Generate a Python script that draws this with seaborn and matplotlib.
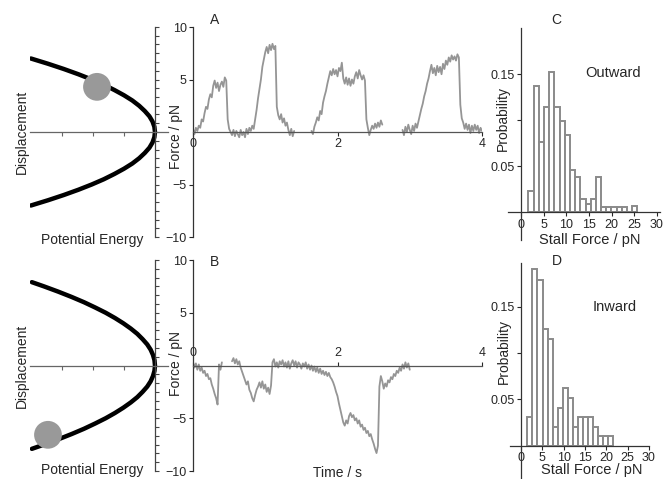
import numpy as np
import matplotlib
matplotlib.use('Agg')
import matplotlib.pyplot as plt
import seaborn as sns

# ---- data ----
# potential wells (schematic): displacement vs potential energy
disp_top = [0, 0.5, 1, 1.5, 2, 2.5, 3, 3.5, 4, 4.5, 5, 5.5, 6, 6.5, 7]
energy_top = [0, -0.02, -0.08, -0.18, -0.33, -0.51, -0.73, -1.0, -1.31, -1.65, -2.04, -2.47, -2.94, -3.45, -4.0]
disp_bot = [0, 0.5, 1, 1.5, 2, 2.5, 3, 3.5, 4, 4.5, 5, 5.5, 6, 6.5, 7, 7.5, 7.9]
energy_bot = [0, -0.016, -0.064, -0.14, -0.25, -0.40, -0.57, -0.78, -1.02, -1.29, -1.59, -1.93, -2.29, -2.69, -3.12, -3.58, -3.97]
ball_top = (-1.87, 4.3)
ball_bot = (-3.45, -6.57)

# force traces, sampled every 0.02 s, each segment with its start time
dt = 0.02
trace_a = [
    (0.00, [0.3, -0.2, 0.4, 0.1, 0.6, 0.4, 1.2, 1.0, 1.8, 2.4, 2.2, 3.1, 3.6, 3.3, 4.4, 4.9, 4.2, 4.7, 3.9, 4.5,
            4.8, 4.3, 5.2, 4.9, 1.2, 0.3, 0.0, -0.3, 0.2, -0.4, 0.1, -0.2, -0.5, 0.2, -0.3, 0.0, -0.5, 0.3, -0.2, 0.4,
            0.1, 0.6, 0.3, 1.2, 2.1, 3.2, 4.1, 5.0, 6.2, 6.9, 7.6, 8.1, 7.5, 8.3, 7.8, 8.4, 7.9, 8.2, 2.4, 1.6,
            1.2, 1.7, 0.9, 1.3, 0.6, 0.9, 0.2, -0.3, 0.3, -0.4, 0.1]),
    (1.64, [0.1, -0.2, 0.5, 0.9, 1.4, 1.1, 2.0, 1.7, 2.8, 3.4, 3.9, 4.6, 5.2, 5.8, 5.4, 6.0, 5.5, 5.9, 5.3, 6.1,
            5.8, 6.6, 5.1, 4.6, 5.2, 4.5, 5.1, 4.4, 5.0, 4.6, 5.3, 5.7, 5.1, 5.9, 5.4, 5.0, 5.4, 4.9, 1.2, 0.4,
            -0.3, 0.2, 0.6, 0.3, 0.8, 0.4, 0.9, 0.5, 1.1, 0.7]),
    (2.90, [0.2, -0.3, 0.5, 0.0, 0.7, 0.2, -0.2, 0.6, 0.1, 0.8, 0.4, 1.0, 1.6, 2.2, 2.7, 3.4, 3.9, 4.6, 5.1, 5.8,
            6.4, 5.6, 6.1, 5.4, 6.3, 5.7, 6.2, 5.5, 6.5, 6.0, 6.8, 6.4, 7.1, 6.7, 7.3, 6.9, 7.2, 6.8, 7.4, 7.1,
            2.6, 1.3, 0.9, 0.3, 0.8, 0.2, 0.7, -0.1, 0.6, 0.1, 0.7, 0.2, 0.6, -0.1, 0.4, 0.1]),
]
trace_b = [
    (0.00, [0.3, -0.2, 0.2, -0.4, 0.1, -0.5, -0.2, -0.7, -0.5, -1.0, -0.8, -1.3, -1.2, -1.8, -2.2, -2.7, -3.1, -3.7,
            0.1, -0.4, 0.3]),
    (0.54, [0.4, 0.7, 0.2, 0.6, 0.1, 0.4, -0.2, -0.6, -1.0, -1.4, -1.8, -1.5, -2.3, -2.6, -3.1, -3.4, -2.8, -2.3,
            -2.0, -1.6, -2.1, -1.5, -2.2, -1.8, -2.5, -2.1, -2.7, -1.9, 0.3, 0.6, -0.1, 0.3, -0.2, 0.4, 0.1, 0.5,
            -0.1, 0.3, -0.2, 0.4, -0.3, 0.2, 0.5, 0.0, 0.4, -0.2, 0.3, 0.1, -0.3, 0.2, -0.1, 0.3, -0.3, 0.1,
            -0.4, 0.0, -0.5, -0.1, -0.6, -0.2, -0.7, -0.3, -0.8, -0.5, -0.9, -0.6, -1.0, -0.7, -1.1, -1.3, -1.6,
            -2.0, -2.5, -2.9, -3.6, -4.2, -4.8, -5.4, -5.7, -5.2, -5.5, -4.8, -4.5, -4.9, -4.7, -5.2, -5.0, -5.5,
            -5.2, -5.8, -5.6, -6.1, -5.9, -6.4, -6.2, -6.7, -6.5, -7.0, -7.4, -7.9, -8.3, -7.6, -2.0, -1.0, -1.5,
            -2.2, -1.7, -2.0, -1.4, -1.6, -1.1, -1.3, -0.8, -1.0, -0.5, -0.7, -0.2, -0.5, 0.1, -0.3, 0.3, -0.2,
            0.2, -0.4]),
]

# stall force histograms (probability per bin)
c_start, c_width = 1.61, 1.148
c_prob = [0.023, 0.137, 0.076, 0.114, 0.152, 0.114, 0.099, 0.084, 0.046, 0.038, 0.0145,
          0.009, 0.0145, 0.038, 0.006, 0.006, 0.006, 0.006, 0.006, 0.0, 0.007]
d_start, d_width = 1.47, 1.186
d_prob = [0.031, 0.19, 0.179, 0.126, 0.115, 0.02, 0.041, 0.062, 0.051, 0.02, 0.031, 0.031,
          0.031, 0.02, 0.01, 0.01, 0.01]

sns.set_style('ticks')
plt.rcParams['font.family'] = ['Liberation Sans', 'DejaVu Sans']
plt.rcParams['axes.linewidth'] = 0.9

W, H = 668, 479
fig = plt.figure(figsize=(W / 100, H / 100), dpi=100)


def add_ax(x0, y0, x1, y1):
    return fig.add_axes([x0 / W, 1 - y1 / H, (x1 - x0) / W, (y1 - y0) / H])


trace_col = '#959595'
bar_col = '#8a8a8a'
axis_col = '#333333'


def potential_panel(ax, disp, energy, ball, lab_y):
    y = [-d for d in disp[::-1]] + disp[1:]
    x = energy[::-1] + energy[1:]
    sns.lineplot(x=x, y=y, ax=ax, color='black', lw=3.2, sort=False, estimator=None)
    ax.scatter([ball[0]], [ball[1]], s=400, color='#999999', zorder=5, edgecolor='none')
    ax.set_xlim(-4.03, 0.42)
    ax.set_ylim(-10, 10)
    ax.spines['left'].set_position(('data', 0))
    ax.spines['bottom'].set_position(('data', 0))
    ax.spines['top'].set_visible(False)
    ax.spines['right'].set_visible(False)
    ax.spines['left'].set_color('#444444')
    ax.spines['bottom'].set_color('#666666')
    ax.set_yticks(np.linspace(-10, 10, 25))
    ax.set_xticks([-3, -2, -1])
    ax.tick_params(axis='y', direction='in', length=3, width=0.8, colors='#444444', labelleft=False)
    ax.tick_params(axis='x', direction='out', length=3, width=0.8, colors='#666666', labelbottom=False)
    ax.set_ylabel('Displacement', fontsize=10)
    ax.yaxis.set_label_coords(-0.005, 0.5)
    ax.set_xlabel('Potential Energy', fontsize=10)
    ax.xaxis.set_label_coords(0.45, lab_y)


def force_panel(ax, segments, letter, top, lab_y):
    for t0, vals in segments:
        t = t0 + dt * np.arange(len(vals))
        sns.lineplot(x=t, y=vals, ax=ax, color=trace_col, lw=1.3, sort=False, estimator=None)
    ax.set_xlim(0, 4)
    ax.set_ylim(-10, 10)
    ax.spines['right'].set_visible(False)
    ax.spines['left'].set_color(axis_col)
    if top:
        ax.spines['bottom'].set_visible(False)
        ax.spines['top'].set_position(('data', 0))
        ax.spines['top'].set_color('#555555')
        ax.xaxis.tick_top()
    else:
        ax.spines['top'].set_visible(False)
        ax.spines['bottom'].set_position(('data', 0))
        ax.spines['bottom'].set_color('#555555')
    ax.set_xticks([0, 2, 4])
    ax.set_yticks([-10, -5, 5, 10])
    ax.tick_params(length=3, width=0.8, labelsize=9, pad=1.5)
    ax.set_ylabel('Force / pN', fontsize=10)
    ax.yaxis.set_label_coords(-0.035, lab_y)
    ax.text(0.073, 1.033 if not top else 0.99, letter, transform=ax.transAxes,
            fontsize=10, ha='center', va='center')


def hist_panel(ax, start, width, probs, xlim, ylim, letter, name, lx, lab):
    edges = (start + width * np.arange(len(probs) + 1)).tolist()
    centers = [e + width / 2 for e in edges[:-1]]
    sns.histplot(x=centers, weights=probs, bins=edges, ax=ax, color='white',
                 edgecolor=bar_col, linewidth=1.4, alpha=1)
    ax.set_xlim(*xlim)
    ax.set_ylim(*ylim)
    ax.spines['left'].set_position(('data', 0))
    ax.spines['bottom'].set_position(('data', 0))
    ax.spines['top'].set_visible(False)
    ax.spines['right'].set_visible(False)
    ax.spines['left'].set_color(axis_col)
    ax.spines['bottom'].set_color(axis_col)
    ax.set_xticks([0, 5, 10, 15, 20, 25, 30])
    ax.set_yticks([0.05, 0.10, 0.15])
    ax.set_yticklabels(['0.05', '', '0.15'])
    ax.tick_params(length=3, width=0.8, labelsize=9, pad=1.5)
    ax.set_ylabel('Probability', fontsize=10)
    ax.yaxis.set_label_coords(lab[0], lab[1])
    ax.set_xlabel('Stall Force / pN', fontsize=10.5)
    ax.xaxis.set_label_coords(lab[2], lab[3])
    ax.text(lx[0], lx[1], letter, transform=ax.transAxes, fontsize=10, ha='center', va='center')
    ax.text(lx[2], lx[3], name, transform=ax.transAxes, fontsize=10.5, ha='center', va='center')


ax_pa = add_ax(30, 27, 168, 237)
potential_panel(ax_pa, disp_top, energy_top, ball_top, 0.02)
ax_pb = add_ax(30, 260, 168, 471)
potential_panel(ax_pb, disp_bot, energy_bot, ball_bot, 0.04)

ax_a = add_ax(193, 27, 482, 237)
force_panel(ax_a, trace_a, 'A', False, 0.48)
ax_b = add_ax(193, 260, 482, 471)
force_panel(ax_b, trace_b, 'B', True, 0.51)
ax_b.text(0.5, -0.01, 'Time / s', transform=ax_b.transAxes, fontsize=10, ha='center', va='center')

ax_c = add_ax(508, 28, 660, 240)
hist_panel(ax_c, c_start, c_width, c_prob, (-2.9, 30.7), (-0.03, 0.2), 'C', 'Outward',
           (0.32, 1.04, 0.69, 0.79), (0.013, 0.575, 0.54, 0.033))
ax_d = add_ax(510, 263, 649, 478)
hist_panel(ax_d, d_start, d_width, d_prob, (-2.6, 30.0), (-0.035, 0.197), 'D', 'Inward',
           (0.34, 1.01, 0.755, 0.795), (0.007, 0.59, 0.59, 0.07))

fig.savefig('out.png', dpi=100)
